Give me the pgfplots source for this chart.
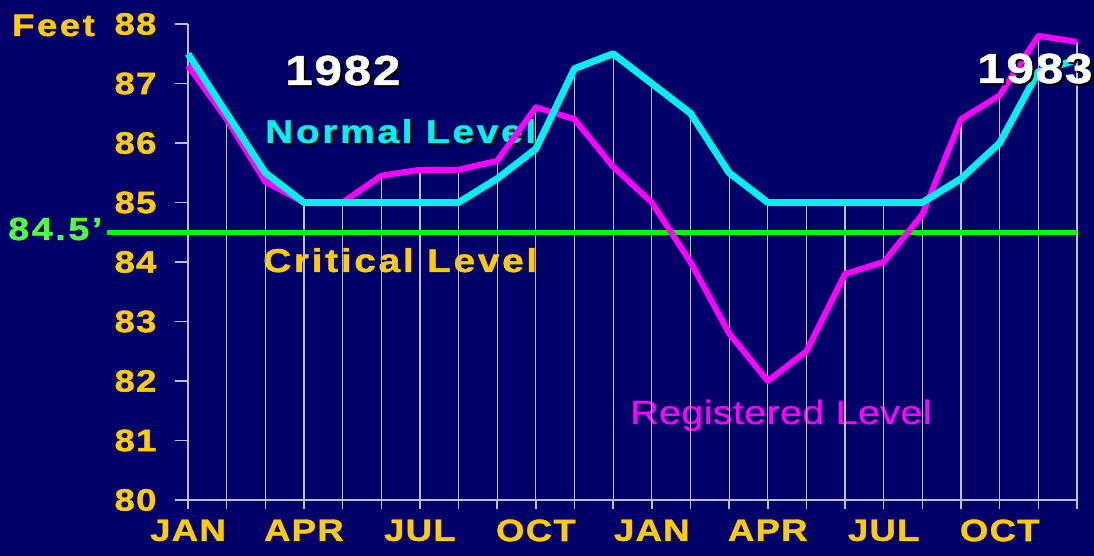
\documentclass[border=0pt]{standalone}
\usepackage{pgfplots}
\pgfplotsset{compat=1.18}
\usepackage{pgfplotstable}
\usepackage{fontspec}
\setmainfont{Liberation Sans}[FakeStretch=1.18]
\newfontfamily\tickf{Liberation Sans}[FakeStretch=1.18, LetterSpace=4, BoldFeatures={FakeBold=1.2}]
\newfontfamily\labf{Liberation Sans}[FakeStretch=1.18, LetterSpace=8, BoldFeatures={FakeBold=1.2}]
\newfontfamily\regf{Liberation Sans}[FakeStretch=1.18, LetterSpace=1, FakeBold=0.8]
\definecolor{bg}{RGB}{0,0,104}
\definecolor{gold}{RGB}{255,204,0}
\definecolor{cyanL}{RGB}{0,240,240}
\definecolor{magL}{RGB}{255,0,255}
\definecolor{grn}{RGB}{0,255,0}
\definecolor{grnT}{RGB}{80,255,60}
\definecolor{gridc}{RGB}{190,190,210}

\pgfplotstableread{
idx normal reg
0 87.5 87.3
1 86.5 86.4
2 85.5 85.35
3 85.0 85.0
4 85.0 85.0
5 85.0 85.45
6 85.0 85.55
7 85.0 85.55
8 85.4 85.7
9 85.9 86.6
10 87.25 86.4
11 87.5 85.6
12 87.0 85.0
13 86.5 84.0
14 85.5 82.8
15 85.0 82.0
16 85.0 82.5
17 85.0 83.8
18 85.0 84.0
19 85.0 84.8
20 85.4 86.4
21 86.0 86.8
22 87.2 87.8
23 87.4 87.7
}\levels

\begin{document}
\begin{tikzpicture}
\fill[bg] (-188pt,-56pt) rectangle (906pt,500pt);
% labels under the grid
\node[anchor=base west, inner sep=0, gold] at (-176pt,464pt) {\labf\bfseries\fontsize{31}{36}\selectfont Feet};
\node[anchor=base west, inner sep=0, grnT] at (-180pt,260pt) {\labf\bfseries\fontsize{32}{36}\selectfont 84.5’};
\node[anchor=base west, inner sep=0, black] at (99pt,413pt) {\tickf\bfseries\fontsize{42}{48}\selectfont 1982};
\node[anchor=base west, inner sep=0, white] at (97pt,415pt) {\tickf\bfseries\fontsize{42}{48}\selectfont 1982};
\node[anchor=base west, inner sep=0, black] at (79pt,355pt) {\labf\bfseries\fontsize{33}{38}\selectfont Normal Level};
\node[anchor=base west, inner sep=0, cyanL] at (77pt,357pt) {\labf\bfseries\fontsize{33}{38}\selectfont Normal Level};
\node[anchor=base west, inner sep=0, gold] at (75pt,228pt) {\labf\bfseries\fontsize{33}{38}\selectfont Critical Level};
\node[anchor=base west, inner sep=0, magL] at (442pt,76pt) {\regf\fontsize{33.5}{38}\selectfont Registered Level};
\begin{axis}[
  at={(0,0)}, anchor=south west, scale only axis,
  width=889pt, height=476pt,
  xmin=0, xmax=23, ymin=80, ymax=88,
  axis x line*=bottom, axis y line*=left,
  axis line style={gridc, line width=1.5pt, -},
  xtick={0,...,23},
  xticklabels={JAN,,,APR,,,JUL,,,OCT,,,JAN,,,APR,,,JUL,,,OCT,,},
  ytick={80,...,88},
  tick align=outside, major tick length=13pt,
  xtick style={/pgfplots/major tick length=9pt, gridc, line width=1.5pt},
  ytick style={gridc, line width=1.5pt},
  tick label style={font=\tickf\bfseries\fontsize{31}{36}\selectfont, text=gold},
  yticklabel style={xshift=-15pt},
  xticklabel style={yshift=-3pt},
  /pgf/number format/assume math mode=true,
  clip=false,
]
\addplot[ycomb, gridc, line width=1.2pt] table[x=idx,y=normal]{\levels};
\addplot[ycomb, gridc, line width=1.2pt] table[x=idx,y=reg]{\levels};
\addplot[grn, line width=5pt] coordinates {(-2.1,84.5) (23,84.5)};
\addplot[magL, line width=6pt, line join=round] table[x=idx,y=reg]{\levels};
\addplot[cyanL, line width=7pt, line join=round] table[x=idx,y=normal]{\levels};
\end{axis}
\node[anchor=base west, inner sep=0, black] at (791pt,415pt) {\tickf\bfseries\fontsize{42}{48}\selectfont 1983};
\node[anchor=base west, inner sep=0, white] at (789pt,417pt) {\tickf\bfseries\fontsize{42}{48}\selectfont 1983};
\pgfresetboundingbox
\path[use as bounding box] (-188pt,-56pt) rectangle (906pt,500pt);
\end{tikzpicture}
\end{document}
